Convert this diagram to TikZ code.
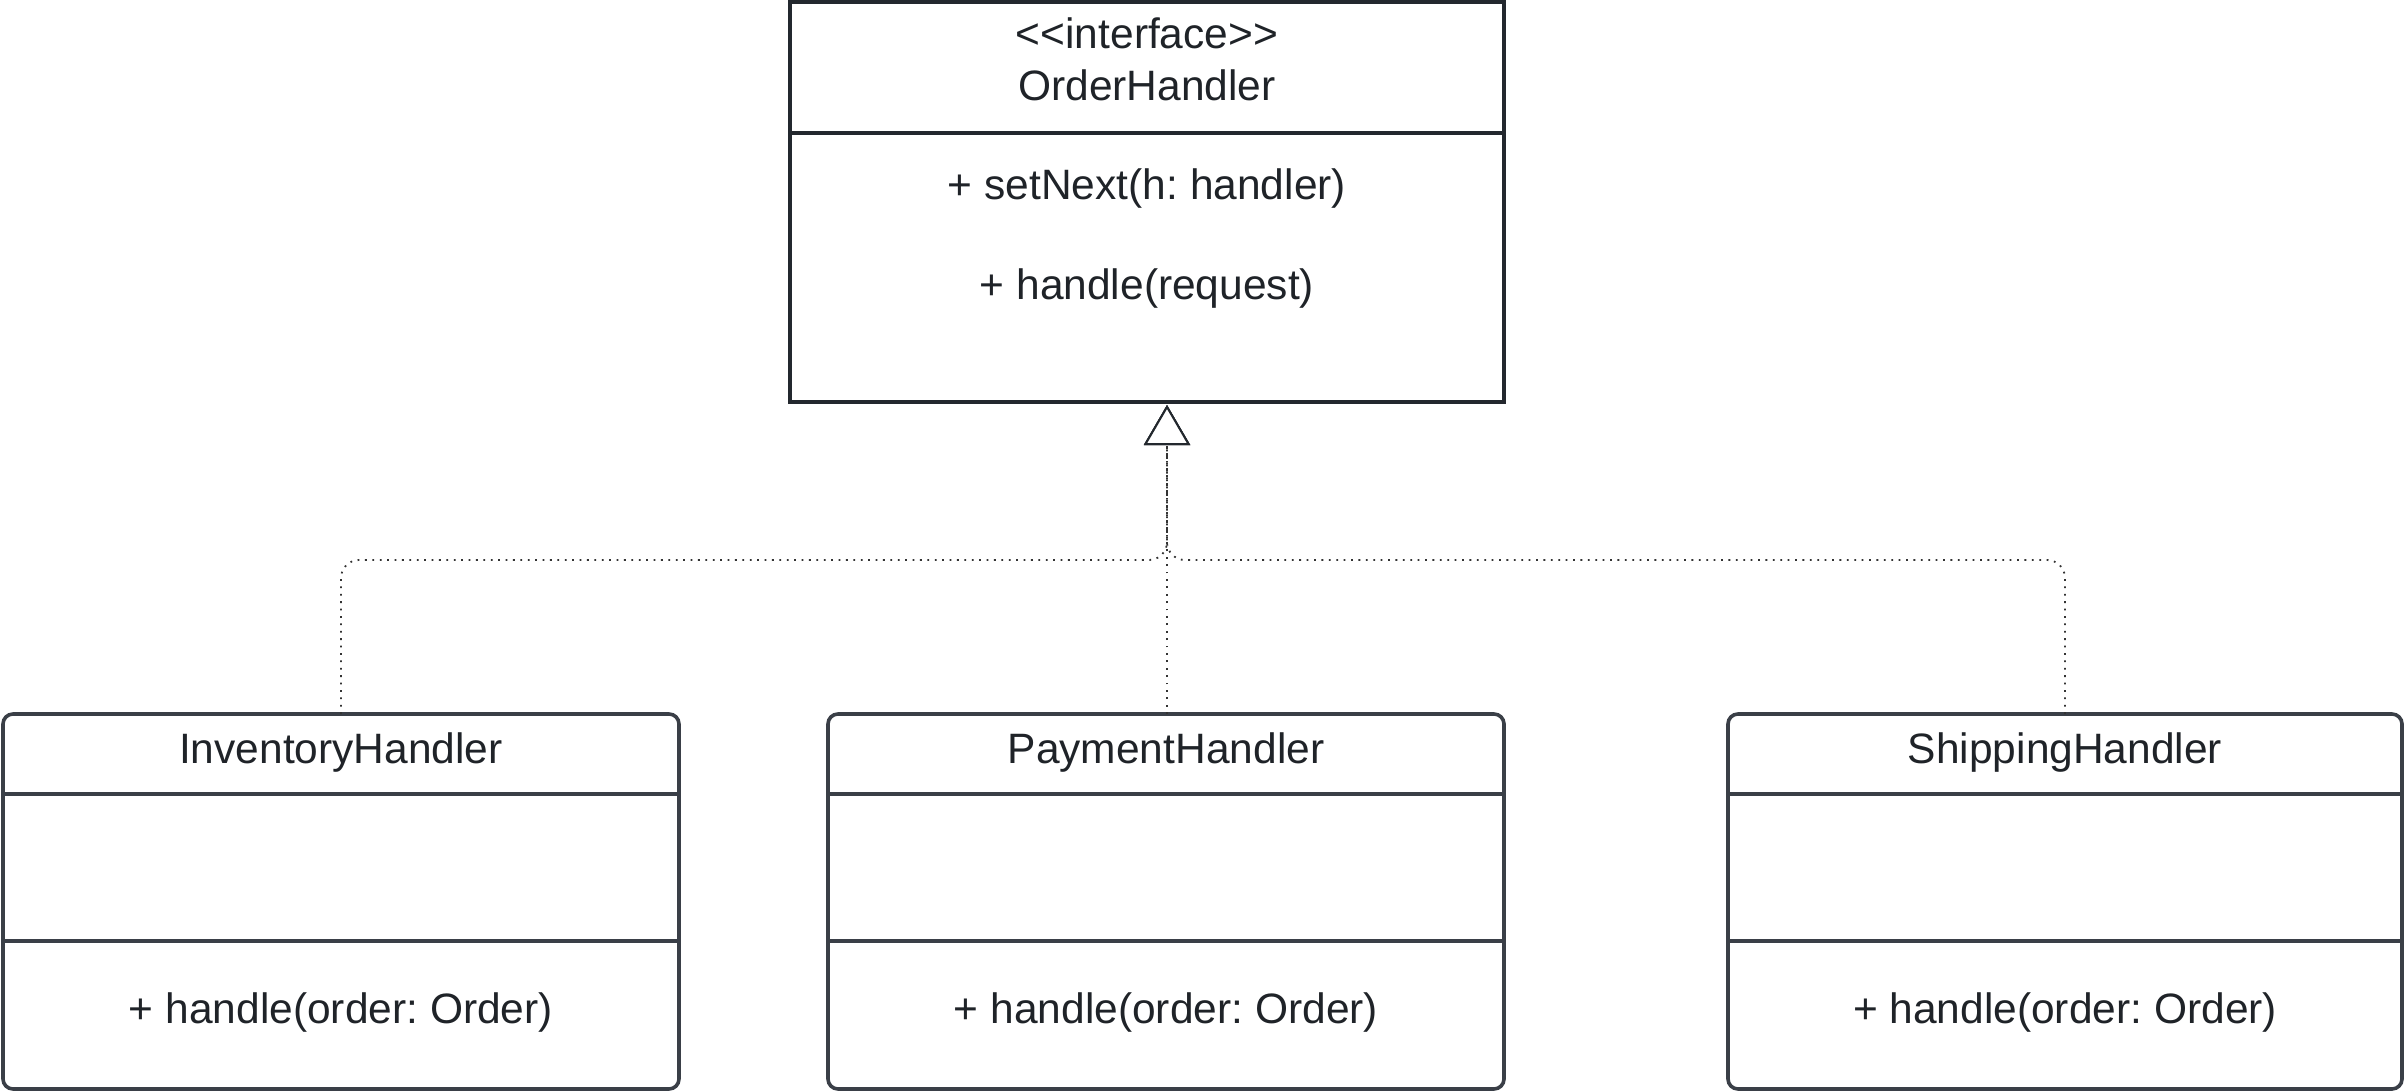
\documentclass[tikz,border=0pt]{standalone}
\usepackage{fontspec}
\setmainfont{Liberation Sans}
\usetikzlibrary{arrows.meta}
\definecolor{txtc}{HTML}{1F2328}
\definecolor{topc}{HTML}{23282E}
\definecolor{boxc}{HTML}{3A3F47}
\definecolor{linec}{HTML}{333333}
\tikzset{
  ifbox/.style={draw=topc, line width=4pt, minimum width=714pt, minimum height=400pt, anchor=north west, outer sep=0pt, inner sep=0pt},
  clbox/.style={draw=boxc, line width=3.6pt, rounded corners=10pt, minimum width=676pt, minimum height=375pt, anchor=north west, outer sep=0pt, inner sep=0pt},
  divtop/.style={draw=topc, line width=3.6pt},
  divbox/.style={draw=boxc, line width=3.6pt},
  lbl/.style={anchor=base, inner sep=0pt, text=txtc, font=\fontsize{42.5}{50}\selectfont\frenchspacing},
  conn/.style={draw=linec, line width=1.8pt, dash pattern=on 1.8pt off 5.6pt, rounded corners=18pt,
    -{Triangle[width=46pt, length=40pt, fill=white, line width=2pt, color=topc]}},
}
\begin{document}
\begin{tikzpicture}[x=1pt, y=-1pt]
\useasboundingbox (0,0) rectangle (2404,1091);
% interface box
\node[ifbox] (oh) at (790,2) {};
\draw[divtop] (790,133) -- (1504,133);
\node[lbl] (ohst) at (1147,49) {<\kern0pt<interface>\kern0pt>};
\node[lbl] (ohname) at (1147,101) {OrderHandler};
\node[lbl] (ohm1) at (1147,200) {+ setNext(h: handler)};
\node[lbl] (ohm2) at (1147,300) {+ handle(request)};
% class boxes
\node[clbox] (inv) at (3,714) {};
\draw[divbox] (3,794) -- (679,794);
\draw[divbox] (3,941) -- (679,941);
\node[lbl] (invname) at (341,763) {InventoryHandler};
\node[lbl] (invm) at (341,1023) {+ handle(order: Order)};

\node[clbox] (pay) at (828,714) {};
\draw[divbox] (828,794) -- (1504,794);
\draw[divbox] (828,941) -- (1504,941);
\node[lbl] (payname) at (1166,763) {PaymentHandler};
\node[lbl] (paym) at (1166,1023) {+ handle(order: Order)};

\node[clbox, minimum width=674pt] (shp) at (1728,714) {};
\draw[divbox] (1728,794) -- (2402,794);
\draw[divbox] (1728,941) -- (2402,941);
\node[lbl] (shpname) at (2065,763) {ShippingHandler};
\node[lbl] (shpm) at (2065,1023) {+ handle(order: Order)};

% connectors
\coordinate (tip) at (1167,405);
\coordinate (junc) at (1167,560);
\coordinate (invtop) at (341,714);
\coordinate (paytop) at (1167,714);
\coordinate (shptop) at (2065,714);
\draw[conn] (invtop) |- (junc) -- (tip);
\draw[conn] (paytop) -- (tip);
\draw[conn] (shptop) |- (junc) -- (tip);
\end{tikzpicture}
\end{document}
